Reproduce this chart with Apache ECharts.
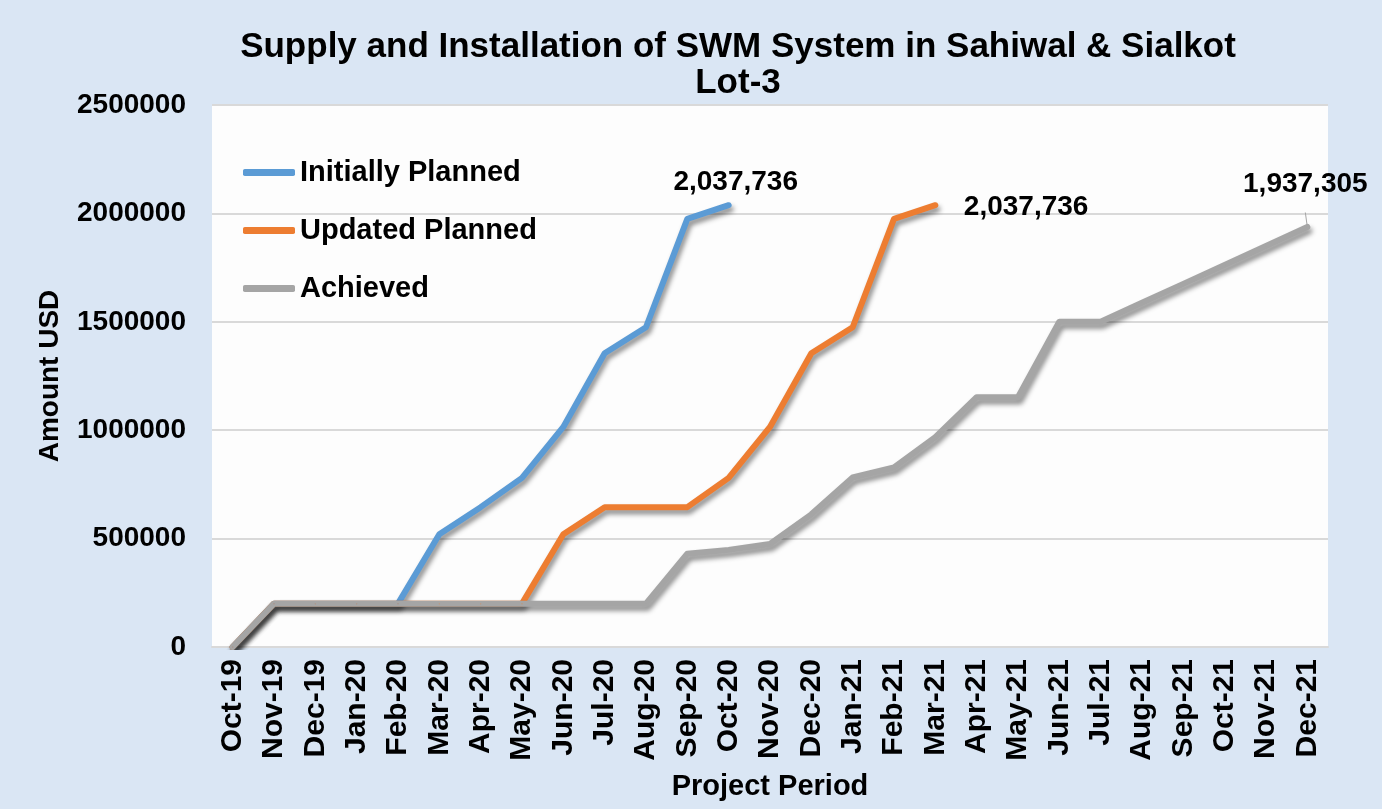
<!DOCTYPE html>
<html lang="en">
<head>
    <meta charset="UTF-8">
    <title>Supply and Installation of SWM System in Sahiwal & Sialkot Lot-3</title>
    <script src="https://cdn.jsdelivr.net/npm/echarts@6/dist/echarts.min.js"></script>
    <style>
        html, body { margin: 0; padding: 0; }
        #chart { width: 1382px; height: 809px; }
    </style>
</head>
<body>
    <div id="chart"></div>
    <script>
        // months on the x axis
        const months = ['Oct-19', 'Nov-19', 'Dec-19', 'Jan-20', 'Feb-20', 'Mar-20', 'Apr-20', 'May-20',
            'Jun-20', 'Jul-20', 'Aug-20', 'Sep-20', 'Oct-20', 'Nov-20', 'Dec-20', 'Jan-21', 'Feb-21',
            'Mar-21', 'Apr-21', 'May-21', 'Jun-21', 'Jul-21', 'Aug-21', 'Sep-21', 'Oct-21', 'Nov-21', 'Dec-21'];

        // cumulative amounts (USD)
        const initiallyPlanned = [0, 200000, 200000, 200000, 200000, 520000, 645000, 780000,
            1015000, 1355000, 1475000, 1975000, 2037736];
        const updatedPlanned = [0, 200000, 200000, 200000, 200000, 200000, 200000, 200000,
            520000, 645000, 645000, 645000, 780000, 1015000, 1355000, 1475000, 1975000, 2037736];
        const achieved = [0, 200000, 200000, 200000, 200000, 200000, 200000, 200000,
            200000, 200000, 200000, 430000, 448000, 475000, 612000, 782000, 828000,
            968000, 1152000, 1152000, 1500000, 1500000, 1588000, 1675000, 1762000, 1850000, 1937305];

        const seriesNames = ['Initially Planned', 'Updated Planned', 'Achieved'];
        const colors = ['#5b9bd5', '#ed7d31', '#a5a5a5'];

        const FONT = 'Liberation Sans, Arial, sans-serif';

        function fmt(v) {
            return v.toString().replace(/\B(?=(\d{3})+(?!\d))/g, ',');
        }

        // only the last point gets a label
        function withEndLabel(arr, label) {
            return arr.map(function (v, i) {
                if (i < arr.length - 1) return v;
                return { value: v, label: Object.assign({ show: true, formatter: fmt(v) }, label) };
            });
        }

        var myChart = echarts.init(document.getElementById('chart'));

        var labelText = { fontFamily: FONT, fontWeight: 'bold', fontSize: 28, color: '#000' };

        function lineSeries(idx, data) {
            return {
                name: seriesNames[idx],
                type: 'line',
                data: data,
                symbol: 'circle',
                symbolSize: 1,
                smooth: false,
                lineStyle: {
                    width: 6,
                    color: colors[idx],
                    cap: 'round',
                    join: 'round',
                    shadowColor: 'rgba(0,0,0,0.45)',
                    shadowBlur: 5,
                    shadowOffsetX: 2,
                    shadowOffsetY: 4
                },
                itemStyle: { color: colors[idx] },
                emphasis: { disabled: true }
            };
        }

        var s0 = lineSeries(0, withEndLabel(initiallyPlanned,
            Object.assign({ position: 'top', distance: 8, offset: [7, 0] }, labelText)));
        var s1 = lineSeries(1, withEndLabel(updatedPlanned,
            Object.assign({ position: 'right', distance: 28, offset: [0, 2] }, labelText)));
        var s2 = lineSeries(2, withEndLabel(achieved,
            Object.assign({ position: 'top', distance: 28, offset: [-2, 0] }, labelText)));
        s2.labelLine = { show: true, lineStyle: { color: '#a5a5a5', width: 1 } };

        var option = {
            backgroundColor: '#dae6f4',
            textStyle: { fontFamily: FONT },
            title: {
                text: 'Supply and Installation of SWM System in Sahiwal & Sialkot\nLot-3',
                left: 733,
                textAlign: 'center',
                top: 24,
                textStyle: {
                    fontFamily: FONT,
                    fontWeight: 'bold',
                    fontSize: 35,
                    lineHeight: 36,
                    color: '#000'
                }
            },
            legend: {
                orient: 'vertical',
                left: 238,
                top: 153,
                itemWidth: 52,
                itemHeight: 7,
                itemGap: 29,
                icon: 'roundRect',
                data: seriesNames,
                textStyle: { fontFamily: FONT, fontWeight: 'bold', fontSize: 29, color: '#000' }
            },
            grid: {
                left: 212,
                right: 54,
                top: 105,
                bottom: 162,
                show: true,
                backgroundColor: '#fdfdfd',
                borderWidth: 0
            },
            xAxis: {
                type: 'category',
                data: months,
                boundaryGap: true,
                name: 'Project Period',
                nameLocation: 'middle',
                nameGap: 125,
                nameTextStyle: { fontFamily: FONT, fontWeight: 'bold', fontSize: 29, color: '#000' },
                axisLine: { lineStyle: { color: '#d9d9d9', width: 2 } },
                axisTick: { show: false },
                axisLabel: {
                    interval: 0,
                    rotate: 90,
                    margin: 12,
                    fontFamily: FONT,
                    fontWeight: 'bold',
                    fontSize: 30,
                    color: '#000'
                }
            },
            yAxis: {
                type: 'value',
                min: 0,
                max: 2500000,
                interval: 500000,
                name: 'Amount USD',
                nameLocation: 'middle',
                nameGap: 148,
                nameTextStyle: { fontFamily: FONT, fontWeight: 'bold', fontSize: 28, color: '#000' },
                axisLine: { show: false },
                axisTick: { show: false },
                splitLine: { lineStyle: { color: '#d9d9d9', width: 2 } },
                axisLabel: {
                    margin: 26,
                    formatter: function (v) { return String(v); },
                    fontFamily: FONT,
                    fontWeight: 'bold',
                    fontSize: 28,
                    color: '#000'
                }
            },
            series: [s0, s1, s2]
        };

        myChart.setOption(option);
    </script>
</body>
</html>
